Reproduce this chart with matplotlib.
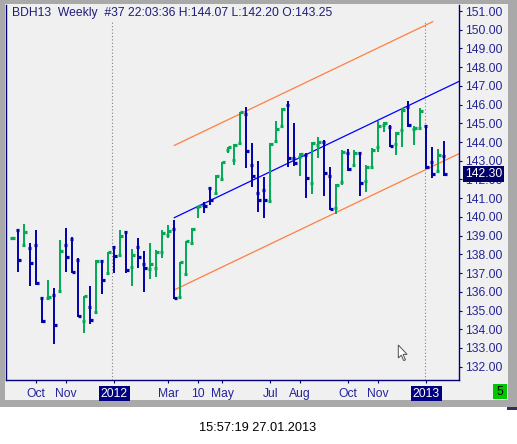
import matplotlib
matplotlib.use("Agg")
import matplotlib.pyplot as plt
from matplotlib.patches import Rectangle, Polygon
import numpy as np

# ---------------- data (weekly OHLC, BDH13) ----------------
opens = [138.86, 139.28, 138.48, 138.32, 138.48, 135.65, 135.65, 135.81, 136.04, 138.48,
         138.80, 137.68, 134.42, 135.17, 134.90, 137.63, 136.99, 138.38, 137.95, 139.18,
         137.31, 138.38, 137.47, 137.20, 137.26, 138.11, 139.03, 139.34, 135.74, 136.95,
         138.62, 140.51, 140.64, 141.53, 141.26, 142.01, 143.56, 143.02, 143.93, 145.50,
         142.77, 141.26, 141.44, 140.85, 144.06, 144.86, 145.98, 143.13, 143.18, 143.31,
         141.80, 143.84, 143.99, 142.19, 140.46, 141.85, 143.43, 142.77, 143.43, 141.92,
         142.68, 143.72, 144.91, 144.79, 143.90, 144.64, 145.89, 144.70, 144.73, 144.86,
         142.95, 142.45, 143.25]
highs = [138.86, 139.34, 139.62, 138.59, 139.30, 135.65, 136.63, 136.19, 138.77, 139.39,
         138.91, 137.79, 135.78, 136.31, 137.70, 137.70, 138.14, 138.45, 139.30, 139.21,
         138.27, 138.89, 138.18, 138.62, 138.23, 139.30, 139.57, 139.84, 137.61, 138.73,
         139.39, 140.58, 140.81, 141.58, 142.24, 142.95, 143.75, 143.90, 145.62, 145.89,
         143.93, 143.00, 142.15, 143.96, 145.12, 145.80, 146.19, 145.03, 143.40, 143.40,
         144.02, 144.29, 144.11, 142.65, 141.76, 143.57, 143.61, 143.57, 143.48, 142.77,
         143.67, 145.14, 145.09, 144.91, 144.55, 145.80, 146.19, 144.86, 145.80, 144.91,
         143.75, 143.61, 144.07]
lows = [138.86, 137.07, 138.41, 136.31, 136.36, 134.35, 135.62, 133.21, 136.01, 137.07,
        136.98, 134.67, 133.82, 134.28, 134.88, 135.88, 136.95, 136.98, 137.88, 136.98,
        136.31, 137.26, 136.01, 136.70, 136.77, 137.80, 138.86, 135.60, 135.70, 136.90,
        138.55, 139.93, 140.23, 140.64, 141.17, 141.93, 143.43, 142.77, 143.88, 142.63,
        141.58, 140.28, 139.96, 140.78, 144.02, 144.77, 142.68, 142.72, 142.19, 140.99,
        141.22, 143.16, 141.12, 140.37, 140.16, 141.71, 142.45, 142.68, 141.12, 141.35,
        142.65, 143.48, 144.55, 143.75, 143.31, 143.75, 144.82, 143.84, 144.64, 142.56,
        142.06, 142.36, 142.20]
closes = [138.86, 137.68, 139.18, 137.52, 136.45, 134.42, 135.71, 134.21, 138.18, 137.84,
          137.04, 134.69, 135.76, 134.48, 137.63, 136.61, 138.11, 137.90, 138.98, 137.16,
          137.95, 137.84, 137.26, 137.47, 138.11, 139.13, 139.25, 135.65, 137.58, 138.71,
          139.34, 140.58, 140.60, 140.90, 142.20, 142.92, 143.72, 143.84, 145.59, 143.52,
          142.19, 140.90, 140.90, 143.90, 144.68, 145.75, 143.13, 142.90, 143.36, 142.06,
          143.96, 143.99, 142.33, 140.42, 141.71, 143.45, 142.56, 143.43, 141.80, 142.68,
          143.57, 144.86, 145.00, 143.79, 144.47, 145.71, 144.91, 144.73, 145.66, 142.68,
          142.28, 143.31, 142.30]

# x-axis date labels (bar index of each labelled week)
xtick_pos = [4, 9, 17, 26, 31, 35, 43, 48, 56, 61, 69]
xtick_labels = ["Oct", "Nov", "2012", "Mar", "10", "May", "Jul", "Aug", "Oct", "Nov", "2013"]
year_marks = [16.67, 68.73]          # year-separator dotted lines

# y-axis ticks
ytick_vals = list(range(132, 152))

# regression channel
chan_start = 27          # bar index where channel starts
chan_mid0 = 139.96       # mid-line value at start
chan_slope = 0.1534      # per week
chan_width = 3.86        # distance of outer lines
chan_upper_end = 70.07

title_txt = "BDH13  Weekly  #37 22:03:36 H:144.07 L:142.20 O:143.25"
stamp_txt = "15:57:19 27.01.2013"
corner_txt = "5"

# ---------------- figure ----------------
W, H = 517, 444
fig = plt.figure(figsize=(W / 100, H / 100), dpi=100)
fig.patch.set_facecolor("white")
plt.rcParams["font.family"] = ["Liberation Sans", "DejaVu Sans"]

NAVY = "#00007a"
LBL = "#24249a"
GREEN = "#00aa55"
BLUE = "#0000aa"


def frect(x0, y0, x1, y1, **kw):
    r = Rectangle((x0 / W, 1 - y1 / H), (x1 - x0) / W, (y1 - y0) / H,
                  transform=fig.transFigure, **kw)
    fig.patches.append(r)
    return r


def fpt(x, y):
    return (x / W, 1 - y / H)


# window frame
frect(0, 0, W, 407, facecolor="#a9a9a9", edgecolor="none", zorder=-20)
frect(5, 4, 508, 400, facecolor="#f0f0f0", edgecolor="none", zorder=-19)
frect(507, 407, W, 409.5, facecolor="#30305a", edgecolor="none", zorder=-19)

# axes
ax_l, ax_r, ax_t, ax_b = 6, 459, 5, 380
ax = fig.add_axes([ax_l / W, 1 - ax_b / H, (ax_r - ax_l) / W, (ax_b - ax_t) / H])
ax.set_facecolor("#f0f0f0")

px_per_unit = 18.72
y_top_price = 151 + (11 - ax_t) / px_per_unit
y_bot_price = 151 - (ax_b - 11) / px_per_unit
ax.set_ylim(y_bot_price, y_top_price)
x0_pix, bar_px = 12.3, 6.0
ax.set_xlim((ax_l - x0_pix) / bar_px, (ax_r - x0_pix) / bar_px)

ax.spines["top"].set_visible(False)
for s in ["left", "bottom", "right"]:
    ax.spines[s].set_color(NAVY)
    ax.spines[s].set_linewidth(1.0)

ax.yaxis.tick_right()
ax.set_yticks(ytick_vals)
ax.set_yticklabels([f"{v:.2f}" for v in ytick_vals])
ax.tick_params(axis="y", direction="out", length=2.4, width=0.8, color=NAVY,
               pad=2.2, labelsize=8.7, labelcolor=LBL)
ax.set_xticks(xtick_pos)
ax.set_xticklabels(xtick_labels)
ax.tick_params(axis="x", direction="out", length=2.4, width=0.8, color=NAVY,
               pad=3.0, labelsize=8.7, labelcolor=LBL)
for lbl in ax.get_xticklabels():
    if lbl.get_text() in ("2012", "2013"):
        lbl.set_color("white")
        lbl.set_bbox(dict(facecolor="#000080", edgecolor="none", pad=1.2))

# year separators
for xm in year_marks:
    ax.axvline(xm, ymin=0, ymax=(ax_b - 20) / (ax_b - ax_t), color="#808080",
               lw=0.8, linestyle=(0, (1, 2)), zorder=1)

# OHLC bars
idx = np.arange(len(opens))
o = np.array(opens); h = np.array(highs); l = np.array(lows); c = np.array(closes)
cols = [GREEN if cc >= oo else BLUE for oo, cc in zip(o, c)]
ax.vlines(idx, l, h, colors=cols, lw=1.4, zorder=3)
ax.hlines(o, idx - 0.45, idx + 0.05, colors=cols, lw=2.3, zorder=3)
ax.hlines(c, idx - 0.05, idx + 0.45, colors=cols, lw=2.3, zorder=3)

# regression channel
xe = ax.get_xlim()[1]
xs = np.array([chan_start, xe])
mid = chan_mid0 + chan_slope * (xs - chan_start)
ax.plot(xs, mid, color="#0000ff", lw=0.9, zorder=2)
ax.plot(xs, mid - chan_width, color="#ff7f40", lw=0.9, zorder=2)
xu = np.array([chan_start, chan_upper_end])
ax.plot(xu, chan_mid0 + chan_slope * (xu - chan_start) + chan_width,
        color="#ff7f40", lw=0.9, zorder=2)

# last price box
ax.annotate(f"{closes[-1]:.2f}", xy=(1, closes[-1]), xycoords=("axes fraction", "data"),
            xytext=(6, 0), textcoords="offset pixels", ha="left", va="center",
            fontsize=8.7, color="white", annotation_clip=False, zorder=10,
            bbox=dict(boxstyle="square,pad=0.18", facecolor="#000066", edgecolor="none"))

# title
fig.text(12 / W, 1 - 13 / H, title_txt, fontsize=8.7, color="#1e1e78",
         ha="left", va="center")

# corner box
frect(493, 384, 507, 399, facecolor="#00c800", edgecolor="none", zorder=2)
fig.text(500 / W, 1 - 391.5 / H, corner_txt, fontsize=8.7, color="black",
         ha="center", va="center", zorder=3)

# mouse cursor (decoration)
tip = (398.3, 345.0)
shape = [(0, 0), (0, 13), (3, 10.2), (5.4, 15.6), (7.2, 14.8), (4.8, 9.4), (8.8, 9.4)]
poly = Polygon([fpt(tip[0] + dx, tip[1] + dy) for dx, dy in shape], closed=True,
               transform=fig.transFigure, facecolor="white", edgecolor="#505050",
               lw=0.7, zorder=5)
fig.patches.append(poly)

# timestamp
fig.text(258 / W, 1 - 428 / H, stamp_txt, fontsize=9.2, color="black",
         ha="center", va="center")

fig.savefig("out.png", dpi=100, facecolor=fig.get_facecolor())
